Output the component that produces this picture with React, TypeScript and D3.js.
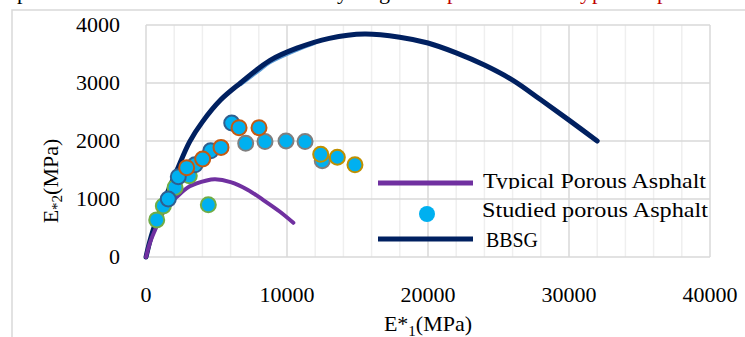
import React from "react";
import { scaleLinear, line, curveCatmullRom, range } from "d3";

// E*1 / E*2 values (MPa)
const bbsg = [
  [0, 0], [250, 250], [500, 460], [1000, 800], [1500, 1100], [2200, 1500],
  [3100, 1990], [4000, 2330], [5300, 2710], [6700, 3000], [8800, 3390],
  [10700, 3600], [13000, 3770], [15500, 3845], [18000, 3790], [20000, 3690],
  [22000, 3520], [24000, 3310], [26000, 3050], [28000, 2710], [30000, 2360],
  [32000, 2000]
];
const bbsgFit = [
  [6700, 2960], [8000, 3200], [8800, 3345], [10700, 3560], [12000, 3680]
];
const typical = [
  [0, 0], [300, 260], [650, 470], [1200, 760], [2200, 1040], [3100, 1220],
  [4300, 1320], [4900, 1340], [6000, 1290], [7200, 1160], [8300, 985],
  [9500, 780], [10450, 590]
];
// studied porous asphalt, grouped by marker outline
const greenPts = [[760, 640], [1230, 880], [2060, 1200], [3070, 1400], [4420, 900]];
const bluePts = [[1580, 1000], [2290, 1385], [3475, 1590], [4590, 1830], [6080, 2310]];
const grayPts = [[7070, 1960], [8440, 1990], [9930, 2000], [11280, 1990], [12500, 1660]];
const orangePts = [[2885, 1540], [4020, 1690], [5320, 1890], [6600, 2230], [8015, 2230]];
const goldPts = [[12390, 1770], [13570, 1720], [14820, 1590]];

const xTicks = [0, 10000, 20000, 30000, 40000];
const yTicks = [0, 1000, 2000, 3000, 4000];

const font = "'Liberation Serif', 'Times New Roman', serif";

export default function App() {
  const x = scaleLinear().domain([0, 40000]).range([146, 710]);
  const y = scaleLinear().domain([0, 4000]).range([257, 25]);
  const path = line<number[]>()
    .x(d => x(d[0]))
    .y(d => y(d[1]))
    .curve(curveCatmullRom);

  const minor = range(0, 40001, 2000).filter(v => v % 10000 !== 0);

  const groups: [number[][], string][] = [
    [greenPts, "#70ad47"],
    [bluePts, "#2f5f8f"],
    [grayPts, "#7f7f7f"],
    [orangePts, "#c55a11"],
    [goldPts, "#bf9000"]
  ];

  return (
    <svg width={745} height={337} style={{ position: "absolute", left: 0, top: 0, background: "#fff" }}>
      <defs>
        <clipPath id="legclip">
          <rect x={470} y={160} width={260} height={29} />
        </clipPath>
      </defs>
      {/* cut-off caption line above the figure */}
      <g fontFamily={font} fontSize={22}>
        <text x={17} y={-1} fill="#000">p</text>
        <text x={337} y={-1} fill="#000">y</text>
        <text x={379} y={-1} fill="#000">g</text>
        <text x={447} y={-1} fill="#c00000">p</text>
        <text x={580} y={-1} fill="#c00000">y</text>
        <text x={592} y={-1} fill="#c00000">p</text>
        <text x={657} y={-1} fill="#c00000">p</text>
      </g>
      <rect x={12} y={10} width={760} height={340} fill="none" stroke="#d9d9d9" strokeWidth={1.5} />

      {minor.map(v => (
        <line key={"m" + v} x1={x(v)} x2={x(v)} y1={y(4000)} y2={y(0)} stroke="#efefef" strokeWidth={1.5} />
      ))}
      {xTicks.map(v => (
        <line key={"x" + v} x1={x(v)} x2={x(v)} y1={y(4000)} y2={y(0)} stroke="#d9d9d9" strokeWidth={1.5} />
      ))}
      {yTicks.map(v => (
        <line key={"y" + v} x1={x(0)} x2={x(40000)} y1={y(v)} y2={y(v)} stroke="#d9d9d9" strokeWidth={1.5} />
      ))}

      <path d={path(bbsgFit) || ""} fill="none" stroke="#5b9bd5" strokeWidth={2.5} />
      <path d={path(bbsg) || ""} fill="none" stroke="#002060" strokeWidth={5} strokeLinecap="round" />
      <path d={path(typical) || ""} fill="none" stroke="#7030a0" strokeWidth={4} strokeLinecap="round" />

      {groups.map(([pts, c], gi) =>
        pts.map((p, i) => (
          <circle key={gi + "-" + i} cx={x(p[0])} cy={y(p[1])} r={7.5} fill="#00b0f0" stroke={c} strokeWidth={2} />
        ))
      )}

      <g fontFamily={font} fontSize={22} fill="#000">
        {yTicks.map(v => (
          <text key={"yt" + v} x={120} y={y(v) + 7} textAnchor="end">{v}</text>
        ))}
        {xTicks.map(v => (
          <text key={"xt" + v} x={x(v)} y={302} textAnchor="middle">{v}</text>
        ))}
        <text x={428} y={331} textAnchor="middle">
          E*<tspan fontSize={15} dy={5}>1</tspan><tspan dy={-5}>(MPa)</tspan>
        </text>
        <text transform="translate(58,181) rotate(-90)" textAnchor="middle">
          E<tspan fontSize={15} dy={4}>*2</tspan><tspan dy={-4}>(MPa)</tspan>
        </text>
      </g>

      {/* legend */}
      <g fontFamily={font} fontSize={22} fill="#000">
        <line x1={378} x2={473} y1={183} y2={183} stroke="#7030a0" strokeWidth={5} />
        <text x={483} y={188} clipPath="url(#legclip)" textLength={223} lengthAdjust="spacingAndGlyphs">Typical Porous Asphalt</text>
        <circle cx={427} cy={214} r={8} fill="#00b0f0" />
        <text x={482} y={217} textLength={226} lengthAdjust="spacingAndGlyphs">Studied porous Asphalt</text>
        <line x1={378} x2={473} y1={239} y2={239} stroke="#002060" strokeWidth={5} />
        <text x={486} y={247} textLength={52} lengthAdjust="spacingAndGlyphs">BBSG</text>
      </g>
    </svg>
  );
}
